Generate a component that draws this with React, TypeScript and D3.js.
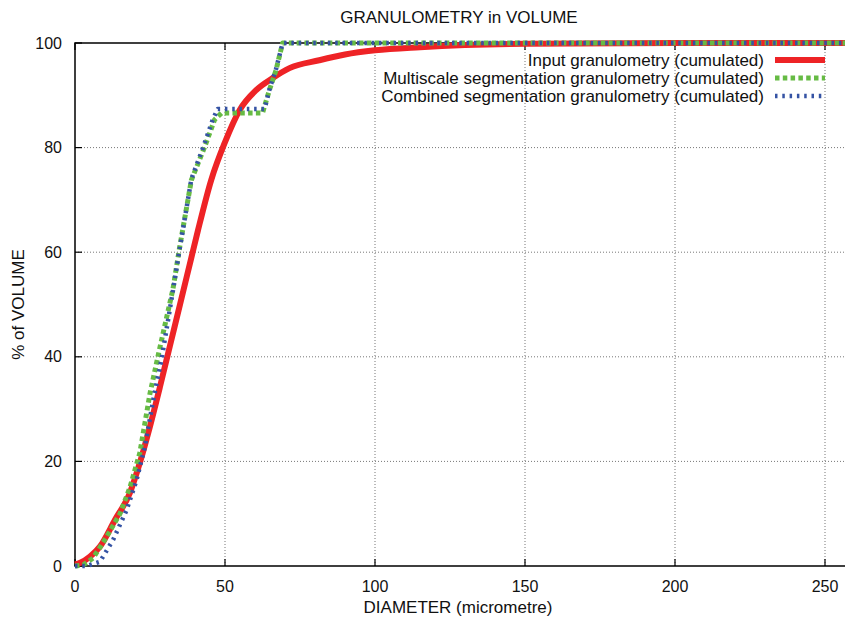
import React from "react";
import * as d3 from "d3";

// cumulated granulometry curves
const inputDiam = [0, 1.7, 5, 8.3, 13.3, 18.3, 21.6, 24.9, 28.3, 31.6, 35, 38.8, 41, 45.4, 49.9, 54.9, 60.4, 65.9, 71.5, 81.4, 90, 100, 115, 130, 150, 200, 260];
const inputVol = [0.3, 0.6, 1.8, 3.7, 8.8, 14, 19.7, 26.5, 34.2, 42, 50, 59, 64.2, 73.8, 80.9, 87.2, 91, 93.3, 95.2, 96.7, 97.8, 98.6, 99.2, 99.6, 99.85, 100, 100];

const multiDiam = [0, 2.7, 6, 9.3, 15, 18.3, 21.6, 25, 28, 32.6, 34.9, 38.8, 43.2, 46.5, 48.8, 62.5, 64.8, 67, 69.2, 260];
const multiVol = [0, 0.2, 1.5, 4.4, 10, 15, 21.6, 33, 41, 52.8, 61, 73.8, 80.1, 85.3, 86.6, 86.6, 91, 94.8, 100, 100];

const combDiam = [0, 3.9, 8.3, 12.7, 17.2, 20.5, 23.3, 26, 29, 32.6, 35, 38.8, 43, 46, 47.6, 63.2, 65, 67, 69.2, 260];
const combVol = [0, 0, 0.8, 5, 10.7, 16.4, 22.8, 31.5, 40, 52.5, 61, 74, 80.5, 85.5, 87.4, 87.4, 91.5, 95, 100, 100];

const xTicks = [0, 50, 100, 150, 200, 250];
const yTicks = [0, 20, 40, 60, 80, 100];

const legendNames = [
  "Input granulometry (cumulated)",
  "Multiscale segmentation granulometry (cumulated)",
  "Combined segmentation granulometry (cumulated)",
];

const W = 845;
const H = 620;
const font = "'Liberation Sans', Arial, Helvetica, sans-serif";
const labelSize = 17;
const tickSize = 16;

export default function App() {
  const x = d3.scaleLinear().domain([0, 260]).range([75, 855]);
  const y = d3.scaleLinear().domain([0, 100]).range([566, 43]);

  const smooth = d3
    .line<[number, number]>()
    .x((d) => x(d[0]))
    .y((d) => y(d[1]))
    .curve(d3.curveMonotoneX);
  const straight = d3
    .line<[number, number]>()
    .x((d) => x(d[0]))
    .y((d) => y(d[1]));

  const zip = (a: number[], b: number[]) => a.map((v, i) => [v, b[i]] as [number, number]);

  const series = [
    { name: legendNames[0], pts: zip(inputDiam, inputVol), color: "#ee2326", width: 6, dash: "", gen: smooth },
    { name: legendNames[1], pts: zip(multiDiam, multiVol), color: "#66bb44", width: 5, dash: "4.5,3.3", gen: straight },
    { name: legendNames[2], pts: zip(combDiam, combVol), color: "#3553a4", width: 4.5, dash: "2.5,4.8", gen: straight },
  ];

  const left = x(0);
  const right = x(260);
  const top = y(100);
  const bottom = y(0);

  return (
    <svg
      width={W}
      height={H}
      style={{ position: "absolute", left: 0, top: 0, background: "#fff" }}
      fontFamily={font}
    >
      <rect width={W} height={H} fill="#fff" />
      {/* grid */}
      {xTicks
        .filter((t) => t > 0)
        .map((t) => (
          <line key={"gx" + t} x1={x(t)} x2={x(t)} y1={top} y2={bottom} stroke="#777" strokeWidth={1} strokeDasharray="1,2" />
        ))}
      {yTicks
        .filter((t) => t > 0 && t < 100)
        .map((t) => (
          <line key={"gy" + t} x1={left} x2={right} y1={y(t)} y2={y(t)} stroke="#777" strokeWidth={1} strokeDasharray="1,2" />
        ))}

      {/* ticks */}
      {xTicks.map((t) => (
        <g key={"tx" + t}>
          <line x1={x(t)} x2={x(t)} y1={bottom} y2={bottom - 7} stroke="#000" strokeWidth={1.2} />
          <line x1={x(t)} x2={x(t)} y1={top} y2={top + 7} stroke="#000" strokeWidth={1.2} />
          <text x={x(t)} y={586} fontSize={tickSize} textAnchor="middle" dominantBaseline="central" fill="#111">
            {t}
          </text>
        </g>
      ))}
      {yTicks.map((t) => (
        <g key={"ty" + t}>
          <line x1={left} x2={left + 7} y1={y(t)} y2={y(t)} stroke="#000" strokeWidth={1.2} />
          <text x={62} y={y(t)} fontSize={tickSize} textAnchor="end" dominantBaseline="central" fill="#111">
            {t}
          </text>
        </g>
      ))}

      {/* frame */}
      <path d={`M${right},${top}H${left}V${bottom}H${right}`} fill="none" stroke="#000" strokeWidth={1.5} />

      {/* curves */}
      {series.map((s) => (
        <path
          key={s.name}
          d={s.gen(s.pts) || ""}
          fill="none"
          stroke={s.color}
          strokeWidth={s.width}
          strokeDasharray={s.dash || undefined}
          strokeLinejoin="round"
        />
      ))}

      {/* legend */}
      {series.map((s, i) => {
        const ly = 60 + i * 18;
        return (
          <g key={"lg" + i}>
            <text x={764} y={ly} fontSize={labelSize} textAnchor="end" dominantBaseline="central" fill="#111">
              {s.name}
            </text>
            <line x1={775} x2={825} y1={ly} y2={ly} stroke={s.color} strokeWidth={s.width} strokeDasharray={s.dash || undefined} />
          </g>
        );
      })}

      {/* titles */}
      <text x={459} y={17} fontSize={labelSize} textAnchor="middle" dominantBaseline="central" fill="#111">
        GRANULOMETRY in VOLUME
      </text>
      <text x={458} y={607} fontSize={labelSize} textAnchor="middle" dominantBaseline="central" fill="#111">
        DIAMETER (micrometre)
      </text>
      <text
        transform={`translate(18,${(top + bottom) / 2}) rotate(-90)`}
        fontSize={labelSize}
        textAnchor="middle"
        dominantBaseline="central"
        fill="#111"
      >
        % of VOLUME
      </text>
    </svg>
  );
}
